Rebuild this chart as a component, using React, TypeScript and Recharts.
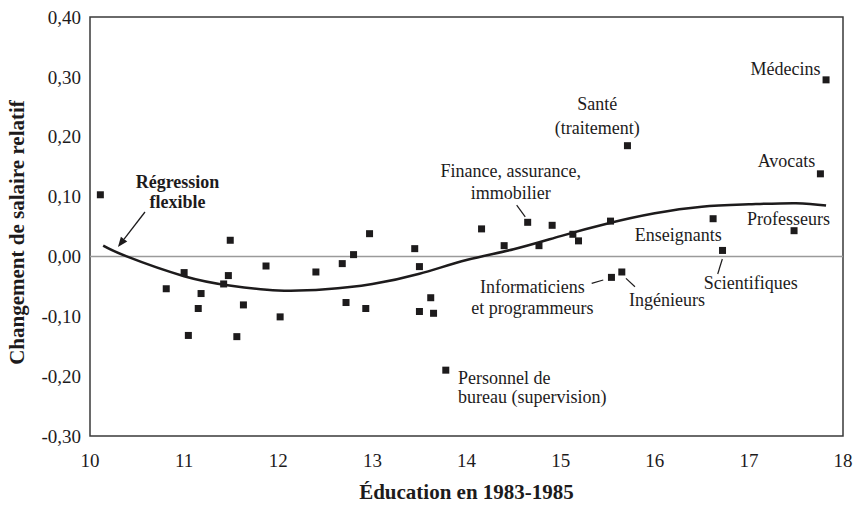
import {
  ComposedChart,
  Line,
  ReferenceArea,
  ReferenceDot,
  ReferenceLine,
  Scatter,
  XAxis,
  YAxis,
} from "recharts";

// Occupations: education in 1983-1985 vs change in relative wage.
const EDUCATION = [
  10.11, 10.81, 11.0, 11.045, 11.15, 11.18, 11.42, 11.47, 11.49, 11.56, 11.63,
  11.87, 12.02, 12.4, 12.68, 12.72, 12.8, 12.93, 12.97, 13.45, 13.5, 13.5,
  13.62, 13.65, 13.78, 14.16, 14.4, 14.65, 14.77, 14.91, 15.13, 15.19, 15.53,
  15.54, 15.65, 15.71, 16.62, 16.72, 17.48, 17.76, 17.82,
];
const WAGE_CHANGE = [
  0.103, -0.054, -0.027, -0.132, -0.087, -0.062, -0.046, -0.032, 0.027, -0.134,
  -0.081, -0.016, -0.101, -0.026, -0.012, -0.077, 0.003, -0.087, 0.038, 0.013,
  -0.017, -0.092, -0.069, -0.095, -0.19, 0.046, 0.018, 0.057, 0.018, 0.052,
  0.037, 0.026, 0.059, -0.035, -0.026, 0.185, 0.063, 0.01, 0.043, 0.138, 0.295,
];

const FIT_X = [
  10.14, 10.39, 11, 11.5, 12, 12.5, 13, 13.5, 14, 14.5, 15, 15.5, 16, 16.5, 17,
  17.5, 17.82,
];
const FIT_Y = [
  0.018, 0, -0.033, -0.049, -0.057, -0.055, -0.046, -0.029, -0.006, 0.012,
  0.034, 0.055, 0.072, 0.083, 0.087, 0.089, 0.085,
];

const X_TICKS = [10, 11, 12, 13, 14, 15, 16, 17, 18];
const Y_TICKS = [-0.3, -0.2, -0.1, 0, 0.1, 0.2, 0.3, 0.4];

const points = EDUCATION.map((x, i) => ({ x, y: WAGE_CHANGE[i] }));
const fit = FIT_X.map((x, i) => ({ x, y: FIT_Y[i] }));

const INK = "#1d1b1c";
const FRAME = "#3a3a3a";
const ZERO = "#9a9a9a";
const SERIF = "'Liberation Serif', 'Times New Roman', serif";

// Callout texts, placed in chart units (first line), with px gap between lines.
const NOTES: {
  lines: string[];
  x: number;
  y: number;
  gap: number;
  anchor?: "start" | "middle" | "end";
  bold?: boolean;
}[] = [
  { lines: ["Régression", "flexible"], x: 10.93, y: 0.124, gap: 20, bold: true },
  { lines: ["Médecins"], x: 17.39, y: 0.313, gap: 0 },
  { lines: ["Santé", "(traitement)"], x: 15.39, y: 0.255, gap: 24 },
  { lines: ["Avocats"], x: 17.4, y: 0.159, gap: 0 },
  { lines: ["Finance, assurance,", "immobilier"], x: 14.47, y: 0.143, gap: 22 },
  { lines: ["Professeurs"], x: 17.42, y: 0.0625, gap: 0 },
  { lines: ["Enseignants"], x: 16.25, y: 0.0357, gap: 0 },
  { lines: ["Scientifiques"], x: 17.02, y: -0.0444, gap: 0 },
  { lines: ["Informaticiens", "et programmeurs"], x: 14.7, y: -0.0506, gap: 21 },
  { lines: ["Ingénieurs"], x: 16.13, y: -0.0728, gap: 0 },
  {
    lines: ["Personnel de", "bureau (supervision)"],
    x: 13.91,
    y: -0.2026,
    gap: 19,
    anchor: "start",
  },
];

const LEADERS: [number, number, number, number][] = [
  [14.533, 0.0856, 14.624, 0.066],
  [16.718, -0.0043, 16.669, -0.0294],
  [15.33, -0.0449, 15.453, -0.0394],
  [15.694, -0.0366, 15.79, -0.0506],
];

const fmt = (v: number) => v.toFixed(2).replace(".", ",");

function Square(props: any) {
  const { cx, cy } = props;
  if (cx == null || cy == null) return null;
  return <rect x={cx - 3.5} y={cy - 3.5} width={7} height={7} fill={INK} />;
}

function Arrow(props: any) {
  const { x1, y1, x2, y2 } = props;
  const a = Math.atan2(y2 - y1, x2 - x1);
  const len = 10;
  const w = 4;
  const bx = x2 - len * Math.cos(a);
  const by = y2 - len * Math.sin(a);
  const px = -Math.sin(a) * w;
  const py = Math.cos(a) * w;
  return (
    <g>
      <line x1={x1} y1={y1} x2={bx} y2={by} stroke={INK} strokeWidth={1.3} />
      <polygon
        points={`${x2},${y2} ${bx + px},${by + py} ${bx - px},${by - py}`}
        fill={INK}
      />
    </g>
  );
}

export default function App() {
  return (
    <div style={{ position: "absolute", left: 0, top: 0, background: "#fff" }}>
      <ComposedChart
        width={856}
        height={509}
        margin={{ top: 17, right: 13, bottom: 0, left: 0 }}
      >
        <XAxis
          type="number"
          dataKey="x"
          domain={[10, 18]}
          ticks={X_TICKS}
          allowDataOverflow
          height={73}
          tickLine={false}
          axisLine={false}
          tickMargin={12}
          tick={{ fill: INK, fontSize: 19, fontFamily: SERIF }}
          label={{
            content: (p: any) => {
              const vb = p.viewBox;
              return (
                <text
                  x={vb.x + vb.width / 2}
                  y={vb.y + 63}
                  textAnchor="middle"
                  fill={INK}
                  fontFamily={SERIF}
                  fontWeight="bold"
                  fontSize={21}
                >
                  Éducation en 1983-1985
                </text>
              );
            },
          }}
        />
        <YAxis
          type="number"
          dataKey="y"
          domain={[-0.3, 0.4]}
          ticks={Y_TICKS}
          allowDataOverflow
          width={90}
          tickLine={false}
          axisLine={false}
          tickMargin={3}
          tickFormatter={fmt}
          tick={{ fill: INK, fontSize: 19, fontFamily: SERIF }}
          label={{
            content: (p: any) => {
              const vb = p.viewBox;
              const cy = vb.y + vb.height / 2 + 6;
              return (
                <text
                  x={17}
                  y={cy}
                  transform={`rotate(-90, 17, ${cy})`}
                  textAnchor="middle"
                  dominantBaseline="central"
                  fill={INK}
                  fontFamily={SERIF}
                  fontWeight="bold"
                  fontSize={21}
                >
                  Changement de salaire relatif
                </text>
              );
            },
          }}
        />
        <ReferenceLine y={0} stroke={ZERO} strokeWidth={1.5} />
        <ReferenceArea
          x1={10}
          x2={18}
          y1={-0.3}
          y2={0.4}
          fill="none"
          stroke={FRAME}
          strokeWidth={1.5}
          fillOpacity={0}
        />
        <Line
          data={fit}
          dataKey="y"
          type="natural"
          dot={false}
          stroke={INK}
          strokeWidth={2.5}
          isAnimationActive={false}
        />
        <Scatter
          data={points}
          dataKey="y"
          shape={Square}
          isAnimationActive={false}
        />
        {LEADERS.map(([ax, ay, bx, by], i) => (
          <ReferenceLine
            key={`l${i}`}
            segment={[
              { x: ax, y: ay },
              { x: bx, y: by },
            ]}
            stroke={INK}
            strokeWidth={1.2}
          />
        ))}
        <ReferenceLine
          segment={[
            { x: 10.584, y: 0.0742 },
            { x: 10.297, y: 0.0157 },
          ]}
          shape={Arrow}
        />
        {NOTES.map((n, i) => (
          <ReferenceDot
            key={`n${i}`}
            x={n.x}
            y={n.y}
            r={0}
            ifOverflow="visible"
            shape={(p: any) => (
              <text
                x={p.cx}
                y={p.cy}
                textAnchor={n.anchor ?? "middle"}
                dominantBaseline="central"
                fill={INK}
                fontFamily={SERIF}
                fontSize={18}
                fontWeight={n.bold ? "bold" : "normal"}
              >
                {n.lines.map((t, j) => (
                  <tspan key={j} x={p.cx} dy={j === 0 ? 0 : n.gap}>
                    {t}
                  </tspan>
                ))}
              </text>
            )}
          />
        ))}
      </ComposedChart>
    </div>
  );
}
